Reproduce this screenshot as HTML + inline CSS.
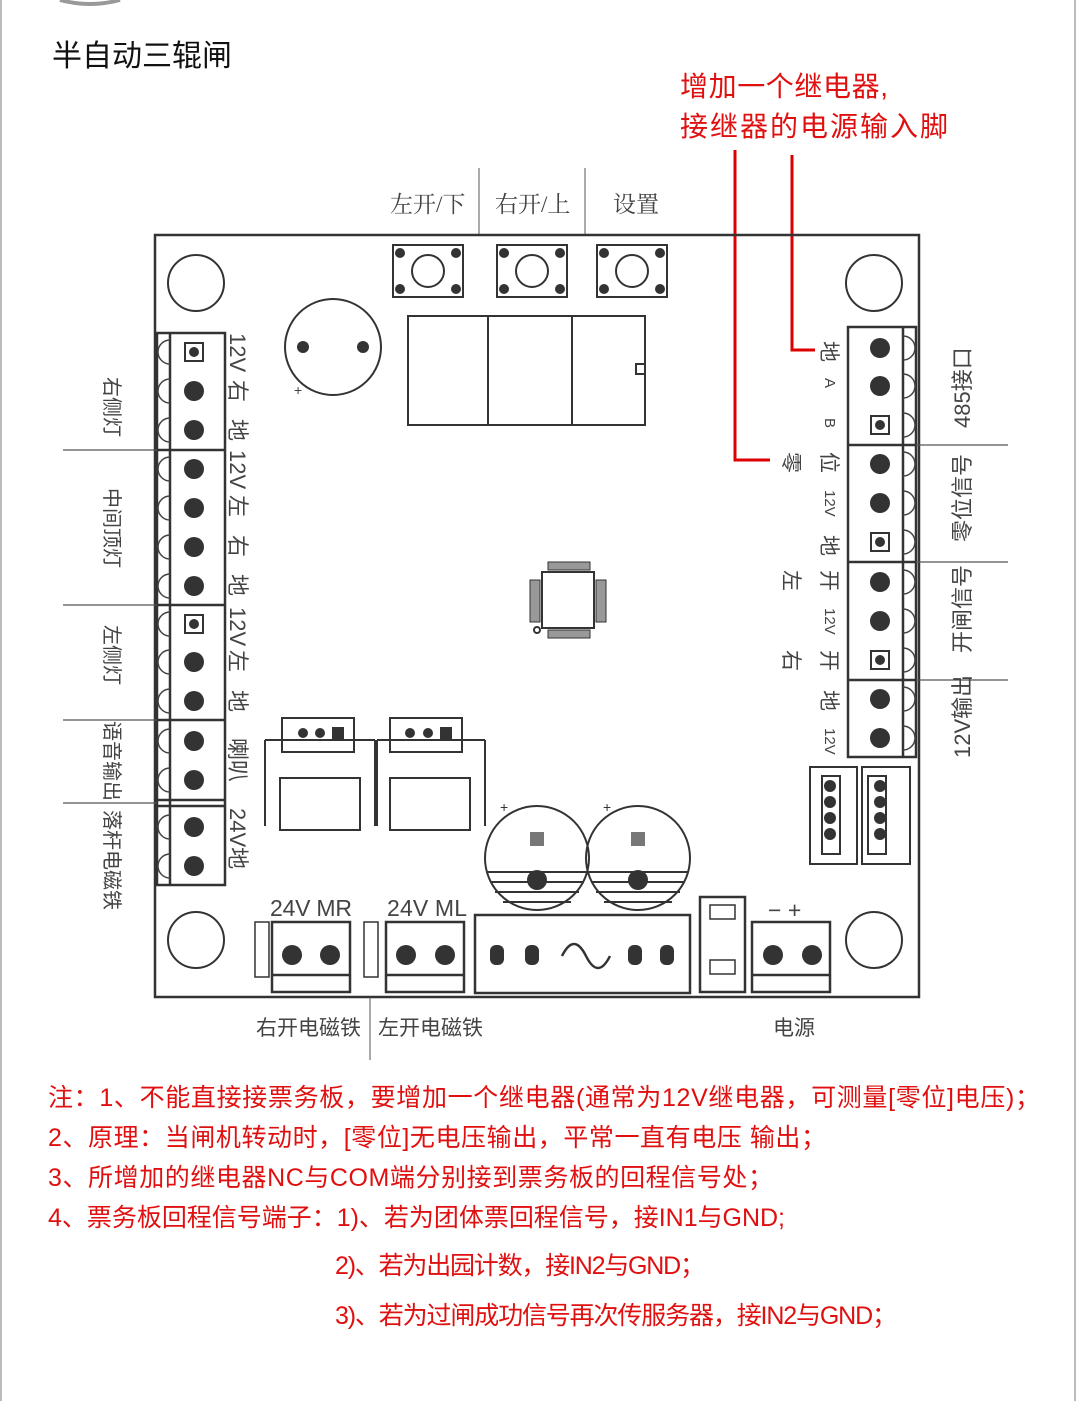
<!DOCTYPE html>
<html><head><meta charset="utf-8"><style>
html,body{margin:0;padding:0;background:#fff}
svg{display:block}
text{font-family:"Liberation Sans","Noto Sans CJK SC",sans-serif}
.s{font-family:"Liberation Serif","Noto Serif CJK SC",serif;fill:#444}
</style></head><body>
<svg width="1077" height="1401" viewBox="0 0 1077 1401" xmlns="http://www.w3.org/2000/svg">
<rect x="0" y="0" width="1077" height="1401" fill="#fff"/>
<line x1="1" y1="0" x2="1" y2="1401" stroke="#bbb" stroke-width="2"/>
<line x1="1075" y1="0" x2="1075" y2="1401" stroke="#bbb" stroke-width="2"/>
<path d="M60 0 Q90 8 120 0" stroke="#999" stroke-width="4" fill="none"/>
<text x="52" y="66" font-size="30" fill="#111">半自动三辊闸</text>
<text x="680" y="96" font-size="28" fill="#e01010" textLength="208" lengthAdjust="spacing">增加一个继电器,</text>
<text x="680" y="136" font-size="28" fill="#e01010" textLength="268" lengthAdjust="spacing">接继器的电源输入脚</text>
<path d="M735 150 V460 H770" stroke="#d00" stroke-width="3" fill="none"/>
<path d="M792 155 V350 H815" stroke="#d00" stroke-width="3" fill="none"/>

<g font-size="23" class="s">
<text x="390" y="212" class="s">左开/下</text>
<text x="495" y="212" class="s">右开/上</text>
<text x="613" y="212" class="s">设置</text>
</g>
<line x1="479" y1="168" x2="479" y2="235" stroke="#555"/>
<line x1="585" y1="168" x2="585" y2="235" stroke="#555"/>

<rect x="155" y="235" width="764" height="762" fill="none" stroke="#333" stroke-width="2.5"/>
<g fill="none" stroke="#333" stroke-width="2">
<circle cx="196" cy="283" r="28"/><circle cx="874" cy="283" r="28"/>
<circle cx="196" cy="940" r="28"/><circle cx="874" cy="940" r="28"/>
<circle cx="333" cy="347" r="48"/>
</g>
<circle cx="303" cy="347" r="6" fill="#333"/><circle cx="363" cy="347" r="6" fill="#333"/>
<text x="294" y="395" font-size="14" fill="#444">+</text>

<g stroke="#333" stroke-width="2" fill="none">
<rect x="393" y="245" width="70" height="52"/><circle cx="428" cy="271" r="16"/>
<rect x="497" y="245" width="70" height="52"/><circle cx="532" cy="271" r="16"/>
<rect x="597" y="245" width="70" height="52"/><circle cx="632" cy="271" r="16"/>
</g>
<g fill="#333">
<circle cx="400" cy="253" r="5"/><circle cx="456" cy="253" r="5"/><circle cx="400" cy="289" r="5"/><circle cx="456" cy="289" r="5"/>
<circle cx="504" cy="253" r="5"/><circle cx="560" cy="253" r="5"/><circle cx="504" cy="289" r="5"/><circle cx="560" cy="289" r="5"/>
<circle cx="604" cy="253" r="5"/><circle cx="660" cy="253" r="5"/><circle cx="604" cy="289" r="5"/><circle cx="660" cy="289" r="5"/>
</g>
<g stroke="#333" stroke-width="2" fill="none">
<rect x="408" y="316" width="237" height="109"/>
<line x1="488" y1="316" x2="488" y2="425"/><line x1="572" y1="316" x2="572" y2="425"/>
<rect x="636" y="364" width="9" height="10" fill="#fff"/>
</g>
<g stroke="#333" fill="none" stroke-width="2">
<rect x="542" y="572" width="52" height="56"/>
<rect x="548" y="562" width="42" height="8" stroke-width="1" fill="#999"/>
<rect x="548" y="630" width="42" height="8" stroke-width="1" fill="#999"/>
<rect x="530" y="580" width="10" height="42" stroke-width="1" fill="#999"/>
<rect x="596" y="580" width="10" height="42" stroke-width="1" fill="#999"/>
<circle cx="537" cy="630" r="3"/>
</g>

<g stroke="#333" stroke-width="2.5" fill="none">
<rect x="157" y="333" width="68" height="552"/>
<line x1="170" y1="333" x2="170" y2="885"/>
<line x1="157" y1="450" x2="225" y2="450"/>
<line x1="157" y1="605" x2="225" y2="605"/>
<line x1="157" y1="720" x2="225" y2="720"/>
<line x1="157" y1="800" x2="225" y2="800"/>
<line x1="157" y1="806" x2="225" y2="806"/>
</g>
<g stroke="#444" stroke-width="1.5" fill="none">
<path d="M170 340a12 12 0 0 0 0 24M170 379a12 12 0 0 0 0 24M170 418a12 12 0 0 0 0 24M170 457a12 12 0 0 0 0 24M170 496a12 12 0 0 0 0 24M170 535a12 12 0 0 0 0 24M170 574a12 12 0 0 0 0 24M170 612a12 12 0 0 0 0 24M170 650a12 12 0 0 0 0 24M170 689a12 12 0 0 0 0 24M170 729a12 12 0 0 0 0 24M170 768a12 12 0 0 0 0 24M170 815a12 12 0 0 0 0 24M170 854a12 12 0 0 0 0 24"/>
</g>
<g fill="#333">
<rect x="185" y="343" width="18" height="18" fill="none" stroke="#333" stroke-width="2"/><circle cx="194" cy="352" r="5"/>
<circle cx="194" cy="391" r="10"/><circle cx="194" cy="430" r="10"/><circle cx="194" cy="469" r="10"/><circle cx="194" cy="508" r="10"/><circle cx="194" cy="547" r="10"/><circle cx="194" cy="586" r="10"/>
<rect x="185" y="615" width="18" height="18" fill="none" stroke="#333" stroke-width="2"/><circle cx="194" cy="624" r="5"/>
<circle cx="194" cy="662" r="10"/><circle cx="194" cy="701" r="10"/><circle cx="194" cy="741" r="10"/><circle cx="194" cy="780" r="10"/><circle cx="194" cy="827" r="10"/><circle cx="194" cy="866" r="10"/>
</g>
<g font-size="22" class="s">
<text transform="translate(230,333) rotate(90)">12V</text>
<text transform="translate(230,380) rotate(90)">右</text>
<text transform="translate(230,419) rotate(90)">地</text>
<text transform="translate(230,450) rotate(90)">12V</text>
<text transform="translate(230,495) rotate(90)">左</text>
<text transform="translate(230,535) rotate(90)">右</text>
<text transform="translate(230,574) rotate(90)">地</text>
<text transform="translate(230,607) rotate(90)">12V</text>
<text transform="translate(230,650) rotate(90)">左</text>
<text transform="translate(230,690) rotate(90)">地</text>
<text transform="translate(230,738) rotate(90)">喇叭</text>
<text transform="translate(230,808) rotate(90)">24V地</text>
</g>
<g stroke="#555" stroke-width="1.2">
<line x1="63" y1="450" x2="157" y2="450"/><line x1="63" y1="605" x2="157" y2="605"/>
<line x1="63" y1="720" x2="157" y2="720"/><line x1="63" y1="803" x2="157" y2="803"/>
</g>
<g font-size="20" class="s">
<text transform="translate(105,377) rotate(90)">右侧灯</text>
<text transform="translate(105,488) rotate(90)">中间顶灯</text>
<text transform="translate(105,625) rotate(90)">左侧灯</text>
<text transform="translate(105,721) rotate(90)">语音输出</text>
<text transform="translate(105,810) rotate(90)">落杆电磁铁</text>
</g>

<g stroke="#333" stroke-width="2.5" fill="none">
<rect x="848" y="327" width="68" height="430"/>
<line x1="903" y1="327" x2="903" y2="757"/>
<line x1="848" y1="445" x2="916" y2="445"/>
<line x1="848" y1="562" x2="916" y2="562"/>
<line x1="848" y1="680" x2="916" y2="680"/>
</g>
<g stroke="#444" stroke-width="1.5" fill="none">
<path d="M903 336a12 12 0 0 1 0 24M903 374a12 12 0 0 1 0 24M903 413a12 12 0 0 1 0 24M903 452a12 12 0 0 1 0 24M903 491a12 12 0 0 1 0 24M903 530a12 12 0 0 1 0 24M903 570a12 12 0 0 1 0 24M903 609a12 12 0 0 1 0 24M903 648a12 12 0 0 1 0 24M903 687a12 12 0 0 1 0 24M903 726a12 12 0 0 1 0 24"/>
</g>
<g fill="#333">
<circle cx="880" cy="348" r="10"/><circle cx="880" cy="386" r="10"/>
<rect x="871" y="416" width="18" height="18" fill="none" stroke="#333" stroke-width="2"/><circle cx="880" cy="425" r="5"/>
<circle cx="880" cy="464" r="10"/><circle cx="880" cy="503" r="10"/>
<rect x="871" y="533" width="18" height="18" fill="none" stroke="#333" stroke-width="2"/><circle cx="880" cy="542" r="5"/>
<circle cx="880" cy="582" r="10"/><circle cx="880" cy="621" r="10"/>
<rect x="871" y="651" width="18" height="18" fill="none" stroke="#333" stroke-width="2"/><circle cx="880" cy="660" r="5"/>
<circle cx="880" cy="699" r="10"/><circle cx="880" cy="738" r="10"/>
</g>
<g font-size="21" class="s">
<text transform="translate(822,341) rotate(90)">地</text>
<text transform="translate(825,378) rotate(90)" font-size="15">A</text>
<text transform="translate(825,418) rotate(90)" font-size="15">B</text>
<text transform="translate(784,452) rotate(90)">零</text>
<text transform="translate(822,452) rotate(90)">位</text>
<text transform="translate(825,490) rotate(90)" font-size="15">12V</text>
<text transform="translate(822,535) rotate(90)">地</text>
<text transform="translate(784,570) rotate(90)">左</text>
<text transform="translate(822,570) rotate(90)">开</text>
<text transform="translate(825,608) rotate(90)" font-size="15">12V</text>
<text transform="translate(784,650) rotate(90)">右</text>
<text transform="translate(822,650) rotate(90)">开</text>
<text transform="translate(822,690) rotate(90)">地</text>
<text transform="translate(825,728) rotate(90)" font-size="15">12V</text>
</g>
<g stroke="#555" stroke-width="1.2">
<line x1="916" y1="445" x2="1008" y2="445"/><line x1="916" y1="562" x2="1008" y2="562"/><line x1="916" y1="680" x2="1008" y2="680"/>
</g>
<g font-size="22" class="s">
<text transform="translate(970,428) rotate(-90)">485接口</text>
<text transform="translate(970,542) rotate(-90)">零位信号</text>
<text transform="translate(970,653) rotate(-90)">开闸信号</text>
<text transform="translate(970,758) rotate(-90)">12V输出</text>
</g>

<g stroke="#333" stroke-width="2" fill="none">
<rect x="810" y="767" width="47" height="97"/><rect x="822" y="776" width="18" height="78"/>
<rect x="862" y="767" width="48" height="97"/><rect x="868" y="776" width="18" height="78"/>
<rect x="282" y="718" width="72" height="34"/><rect x="390" y="718" width="72" height="34"/>
<rect x="280" y="778" width="80" height="52"/><rect x="390" y="778" width="80" height="52"/>
<path d="M265 740 V826 M265 740 H375 M375 740 V826"/>
<path d="M377 740 V826 M377 740 H485 M485 740 V826"/>
</g>
<g fill="#333">
<circle cx="830" cy="786" r="6"/><circle cx="830" cy="802" r="6"/><circle cx="830" cy="818" r="6"/><circle cx="830" cy="834" r="6"/>
<circle cx="880" cy="786" r="6"/><circle cx="880" cy="802" r="6"/><circle cx="880" cy="818" r="6"/><circle cx="880" cy="834" r="6"/>
<circle cx="303" cy="733" r="5"/><circle cx="320" cy="733" r="5"/><rect x="332" y="727" width="12" height="12"/>
<circle cx="410" cy="733" r="5"/><circle cx="428" cy="733" r="5"/><rect x="440" y="727" width="12" height="12"/>
</g>
<g stroke="#333" stroke-width="2" fill="none">
<circle cx="537" cy="858" r="52"/><circle cx="638" cy="858" r="52"/>
</g>
<g stroke="#333" stroke-width="2">
<line x1="487" y1="872" x2="587" y2="872"/><line x1="490" y1="882" x2="584" y2="882"/><line x1="495" y1="892" x2="579" y2="892"/><line x1="503" y1="902" x2="571" y2="902"/>
<line x1="588" y1="872" x2="688" y2="872"/><line x1="591" y1="882" x2="685" y2="882"/><line x1="596" y1="892" x2="680" y2="892"/><line x1="604" y1="902" x2="672" y2="902"/>
</g>
<circle cx="537" cy="880" r="10" fill="#333"/><circle cx="638" cy="880" r="10" fill="#333"/>
<rect x="530" y="832" width="14" height="14" fill="#777"/><rect x="631" y="832" width="14" height="14" fill="#777"/>
<text x="500" y="812" font-size="14" fill="#333">+</text><text x="603" y="812" font-size="14" fill="#333">+</text>

<g font-size="23" class="s">
<text x="270" y="916" textLength="82" lengthAdjust="spacing">24V  MR</text>
<text x="387" y="916" textLength="80" lengthAdjust="spacing">24V  ML</text>
<text x="768" y="918">−  +</text>
</g>
<g stroke="#333" stroke-width="2.5" fill="none">
<rect x="272" y="922" width="78" height="70"/><line x1="272" y1="975" x2="350" y2="975"/>
<rect x="386" y="922" width="78" height="70"/><line x1="386" y1="975" x2="464" y2="975"/>
<rect x="475" y="915" width="215" height="78"/>
<rect x="700" y="897" width="45" height="95"/>
<rect x="752" y="922" width="78" height="70"/><line x1="752" y1="975" x2="830" y2="975"/>
<rect x="255" y="922" width="14" height="55" stroke-width="1.5"/>
<rect x="364" y="922" width="14" height="55" stroke-width="1.5"/>
<rect x="710" y="905" width="25" height="14" stroke-width="1.5"/>
<rect x="710" y="960" width="25" height="14" stroke-width="1.5"/>
<path d="M562 956 q12 -24 24 0 q12 24 24 0"/>
</g>
<g fill="#333">
<circle cx="292" cy="955" r="10"/><circle cx="330" cy="955" r="10"/>
<circle cx="406" cy="955" r="10"/><circle cx="445" cy="955" r="10"/>
<circle cx="773" cy="955" r="10"/><circle cx="812" cy="955" r="10"/>
<rect x="490" y="945" width="14" height="20" rx="6"/><rect x="525" y="945" width="14" height="20" rx="6"/>
<rect x="628" y="945" width="14" height="20" rx="6"/><rect x="660" y="945" width="14" height="20" rx="6"/>
</g>
<line x1="370" y1="997" x2="370" y2="1060" stroke="#555"/>
<g font-size="21" class="s">
<text x="256" y="1035">右开电磁铁</text>
<text x="378" y="1035">左开电磁铁</text>
<text x="773" y="1035">电源</text>
</g>

<g font-size="25" fill="#e01010">
<text x="48" y="1106" textLength="992" lengthAdjust="spacing">注：1、不能直接接票务板，要增加一个继电器(通常为12V继电器，可测量[零位]电压)；</text>
<text x="48" y="1146" textLength="778" lengthAdjust="spacing">2、原理：当闸机转动时，[零位]无电压输出，平常一直有电压 输出；</text>
<text x="48" y="1186" textLength="725" lengthAdjust="spacing">3、所增加的继电器NC与COM端分别接到票务板的回程信号处；</text>
<text x="48" y="1226" textLength="737" lengthAdjust="spacing">4、票务板回程信号端子：1)、若为团体票回程信号，接IN1与GND;</text>
<text x="335" y="1274" textLength="370" lengthAdjust="spacing">2)、若为出园计数，接IN2与GND；</text>
<text x="335" y="1324" textLength="562" lengthAdjust="spacing">3)、若为过闸成功信号再次传服务器，接IN2与GND；</text>
</g>
</svg>
</body></html>
